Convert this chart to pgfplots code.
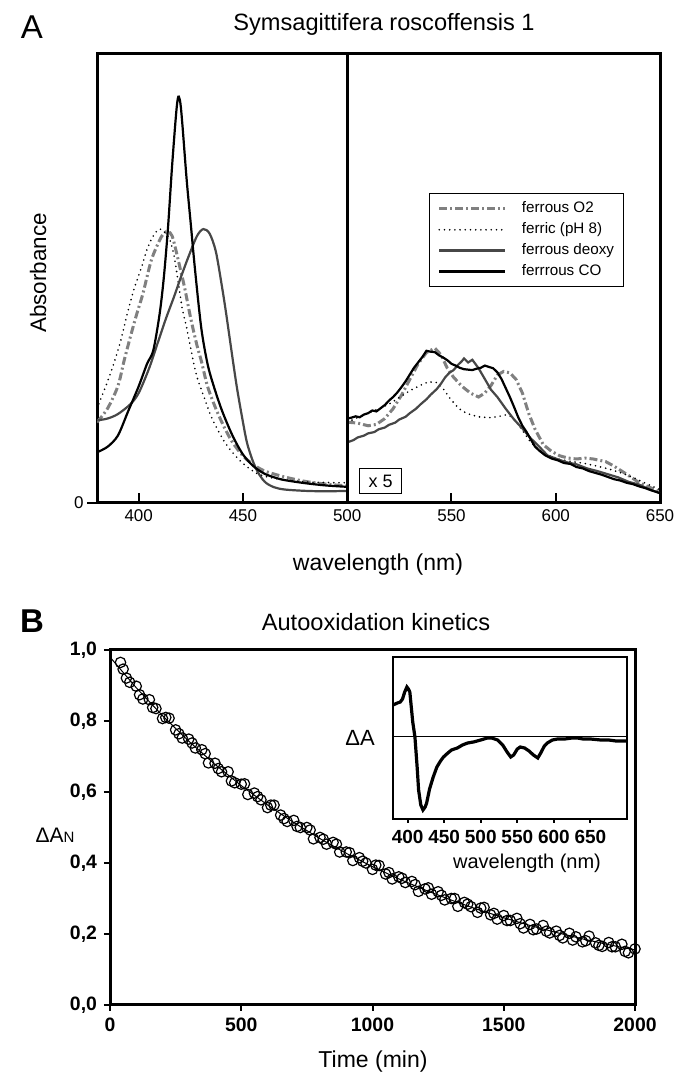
\documentclass[border=0pt]{standalone}
\usepackage{fontspec}
\setmainfont{Liberation Sans}
\usepackage{pgfplots}
\pgfplotsset{compat=1.18}
\definecolor{oxygray}{HTML}{808080}
\definecolor{deoxygray}{HTML}{474747}

\pgfplotsset{
  o2/.style={oxygray, line width=1.5pt, dash pattern=on 4pt off 1.5pt on 1pt off 1.5pt},
  ferric/.style={black, line width=0.9pt, line cap=round, dash pattern=on 0pt off 2.6pt},
  deoxy/.style={deoxygray, line width=1.1pt},
  co/.style={black, line width=1.1pt},
}

\begin{document}
\begin{tikzpicture}
\useasboundingbox (0,0) rectangle (338pt,540.5pt);

% ---------------- panel A ----------------
\node[font=\fontsize{16.5}{18}\selectfont] at (16pt,527pt) {A};
\node[font=\fontsize{11.8}{13}\selectfont] at (192pt,528.5pt) {Symsagittifera roscoffensis 1};
\node[font=\fontsize{11.2}{13}\selectfont, rotate=90] at (19pt,404pt) {Absorbance};
\node[font=\fontsize{11.5}{13}\selectfont] at (189pt,258pt) {wavelength (nm)};

\begin{axis}[
  at={(48.5pt,289pt)}, anchor=south west,
  scale only axis, width=281.5pt, height=224.5pt,
  xmin=380, xmax=650, ymin=0, ymax=1,
  xtick={400,450,500,550,600,650},
  ytick=\empty,
  xtick pos=bottom,
  tick align=inside,
  major tick length=5pt,
  tick style={line width=1pt, black},
  axis line style={line width=1.5pt},
  tick label style={font=\fontsize{8.5}{10}\selectfont},
  /pgf/number format/assume math mode=true,
  legend style={at={(0.59,0.69)}, anchor=north west, draw=black, line width=0.6pt,
    font=\fontsize{7.6}{8.5}\selectfont, row sep=2.2pt, inner xsep=4pt, inner ysep=3.5pt,
    nodes={inner sep=0.6pt},
    /tikz/every odd column/.append style={column sep=7pt}},
  legend cell align=left,
  legend image code/.code={\draw[#1] (0pt,0pt) -- (33pt,0pt);},
]
\addplot[o2, smooth, tension=0.5] coordinates {(380,0.18) (385,0.21) (390,0.26) (393,0.317) (396,0.37) (399,0.42) (402,0.466) (406,0.54) (410,0.585) (412,0.60) (414,0.605) (416,0.595) (418,0.56) (420,0.52) (422,0.48) (425,0.41) (428,0.35) (430,0.317) (433,0.26) (437,0.21) (441,0.169) (445,0.135) (450,0.105) (454,0.089) (460,0.072) (470,0.058) (480,0.048) (490,0.042) (500,0.038)};
\addlegendentry{ferrous O2}
\addplot[ferric, smooth, tension=0.5] coordinates {(380,0.21) (385,0.27) (388,0.31) (391,0.355) (395,0.43) (398,0.48) (401,0.52) (404,0.565) (407,0.595) (410,0.61) (413,0.60) (415,0.585) (417,0.55) (419,0.49) (421,0.43) (423,0.39) (426,0.32) (428,0.28) (431,0.24) (435,0.19) (440,0.145) (444,0.118) (450,0.088) (457,0.065) (465,0.055) (475,0.049) (485,0.046) (500,0.045)};
\addlegendentry{ferric (pH 8)}
\addplot[deoxy, smooth, tension=0.5] coordinates {(380,0.184) (385,0.188) (390,0.198) (396,0.22) (400,0.245) (405,0.30) (409,0.355) (413,0.41) (417,0.46) (420,0.50) (424,0.55) (428,0.595) (431,0.61) (434,0.60) (437,0.56) (440,0.48) (442,0.42) (444,0.355) (447,0.26) (450,0.18) (452,0.133) (455,0.09) (458,0.062) (461,0.045) (465,0.035) (470,0.030) (480,0.027) (490,0.026) (500,0.027)};
\addlegendentry{ferrous deoxy}
\addplot[co, smooth, tension=0.5] coordinates {(380,0.113) (385,0.125) (390,0.15) (395,0.205) (400,0.26) (404,0.31) (407,0.34) (410,0.42) (412,0.50) (414,0.61) (416,0.75) (418,0.87) (419,0.905) (420,0.89) (421,0.84) (423,0.72) (425,0.62) (427,0.52) (430,0.39) (433,0.31) (436,0.26) (440,0.205) (445,0.15) (450,0.108) (455,0.082) (460,0.066) (465,0.057) (470,0.051) (480,0.044) (490,0.039) (500,0.036)};
\addlegendentry{ferrrous CO}

% right part, visible region x 5
\addplot[o2, forget plot] coordinates {(500,0.180) (505,0.178) (510,0.172) (514,0.175) (518,0.188) (522,0.210) (526,0.240) (530,0.275) (534,0.310) (538,0.335) (542,0.345) (545,0.330) (548,0.300) (551,0.280) (555,0.260) (559,0.245) (563,0.236) (566,0.245) (569,0.262) (572,0.285) (575,0.293) (578,0.290) (581,0.275) (584,0.245) (587,0.200) (590,0.165) (594,0.130) (598,0.115) (602,0.105) (606,0.100) (610,0.098) (614,0.100) (618,0.098) (621,0.095) (624,0.092) (628,0.082) (632,0.070) (636,0.058) (640,0.045) (645,0.035) (650,0.025)};
\addplot[ferric, forget plot] coordinates {(500,0.180) (505,0.190) (510,0.200) (515,0.210) (520,0.220) (525,0.235) (530,0.250) (535,0.262) (539,0.270) (543,0.268) (546,0.255) (549,0.235) (552,0.218) (555,0.205) (559,0.197) (563,0.192) (568,0.190) (572,0.192) (576,0.196) (579,0.192) (582,0.175) (585,0.155) (588,0.135) (592,0.118) (597,0.105) (602,0.097) (608,0.092) (614,0.088) (620,0.082) (626,0.075) (632,0.066) (638,0.055) (644,0.042) (650,0.030)};
\addplot[deoxy, forget plot] coordinates {(500,0.135) (503,0.140) (505,0.146) (508,0.150) (510,0.155) (513,0.158) (515,0.164) (518,0.168) (520,0.174) (523,0.179) (525,0.186) (528,0.192) (530,0.200) (533,0.210) (535,0.219) (538,0.231) (540,0.241) (543,0.254) (545,0.266) (547,0.280) (549,0.290) (551,0.296) (553,0.307) (555,0.316) (556,0.322) (558,0.313) (560,0.319) (563,0.300) (566,0.276) (569,0.252) (572,0.236) (576,0.210) (580,0.186) (584,0.166) (588,0.144) (592,0.126) (596,0.106) (600,0.099) (605,0.091) (610,0.086) (615,0.077) (620,0.071) (625,0.064) (630,0.057) (635,0.047) (640,0.041) (645,0.030) (650,0.022)};
\addplot[co, forget plot] coordinates {(500,0.188) (502,0.190) (504,0.193) (506,0.191) (508,0.197) (510,0.200) (512,0.206) (514,0.204) (516,0.211) (518,0.218) (520,0.228) (522,0.236) (524,0.246) (526,0.258) (528,0.271) (530,0.286) (532,0.301) (534,0.313) (536,0.325) (538,0.339) (540,0.337) (542,0.336) (544,0.329) (546,0.324) (548,0.318) (550,0.310) (552,0.306) (554,0.301) (556,0.298) (558,0.297) (560,0.296) (562,0.299) (564,0.301) (566,0.306) (568,0.303) (570,0.300) (572,0.291) (574,0.276) (576,0.256) (578,0.236) (580,0.214) (582,0.191) (584,0.172) (586,0.158) (588,0.142) (590,0.126) (592,0.117) (595,0.106) (598,0.099) (601,0.095) (604,0.089) (607,0.087) (610,0.080) (613,0.077) (616,0.071) (619,0.067) (622,0.063) (625,0.058) (628,0.053) (631,0.050) (634,0.045) (637,0.042) (640,0.037) (643,0.033) (646,0.028) (650,0.022)};

\draw[line width=1.5pt] (axis cs:500,0) -- (axis cs:500,1);
\node[draw, line width=0.7pt, minimum width=21pt, minimum height=12.5pt, inner sep=0pt,
  font=\fontsize{9}{10}\selectfont] at (axis cs:516,0.049) {x 5};
\end{axis}
\draw[line width=1pt] (48.5pt,289pt) -- (43.5pt,289pt);
\node[anchor=east, font=\fontsize{8.5}{10}\selectfont, inner sep=1pt] at (43pt,289pt) {0};

% ---------------- panel B ----------------
\node[font=\bfseries\fontsize{16.5}{18}\selectfont] at (16pt,230pt) {B};
\node[font=\fontsize{11.8}{13}\selectfont] at (188pt,229.5pt) {Autooxidation kinetics};
\node[font=\fontsize{10.5}{12}\selectfont] at (27.5pt,123pt) {ΔA{\fontsize{7.5}{9}\selectfont N}};
\node[font=\fontsize{11.5}{13}\selectfont] at (186.5pt,9.5pt) {Time (min)};

\begin{axis}[
  at={(55pt,38pt)}, anchor=south west,
  scale only axis, width=262.5pt, height=177.5pt,
  xmin=0, xmax=2000, ymin=0, ymax=1,
  xtick={0,500,1000,1500,2000},
  ytick={0,0.2,0.4,0.6,0.8,1.0},
  xtick pos=bottom, ytick pos=left,
  tick align=outside,
  major tick length=3pt,
  tick style={line width=1pt, black},
  axis line style={line width=1.5pt},
  tick label style={font=\bfseries\fontsize{9.7}{11}\selectfont},
  /pgf/number format/assume math mode=true,
  xticklabel style={/pgf/number format/1000 sep={}},
  yticklabel style={/pgf/number format/.cd, fixed, fixed zerofill, precision=1, use comma},
]
\addplot[black, line width=0.5pt] coordinates {(0,0.980) (100,0.8937) (200,0.8150) (300,0.7432) (400,0.6777) (500,0.6180) (600,0.5636) (700,0.5139) (800,0.4686) (900,0.4273) (1000,0.3897) (1100,0.3553) (1200,0.3240) (1300,0.2955) (1400,0.2694) (1500,0.2457) (1600,0.2240) (1700,0.2043) (1800,0.1863) (1900,0.1699) (2000,0.1549)};
\addplot[only marks, mark=o, mark size=2.6pt, mark options={line width=0.6pt, fill=white, draw=black}] coordinates {
(40,0.965) (50,0.946) (62.5,0.921) (75,0.909) (100,0.898) (112.5,0.874) (125,0.862) (150,0.860) (162.5,0.838) (175,0.835) (200,0.807) (212.5,0.810) (225,0.808) (250,0.775) (262.5,0.764) (275,0.752) (300,0.749) (312.5,0.738) (325,0.724) (350,0.719) (362.5,0.708) (375,0.682) (400,0.681) (412.5,0.666) (425,0.657) (450,0.657) (462.5,0.631) (475,0.626) (500,0.622) (512.5,0.623) (525,0.593) (550,0.597) (562.5,0.587) (575,0.578) (600,0.556) (612.5,0.563) (625,0.563) (650,0.535) (662.5,0.525) (675,0.517) (700,0.520) (712.5,0.503) (725,0.500) (750,0.500) (762.5,0.493) (775,0.468) (800,0.472) (812.5,0.467) (825,0.453) (850,0.458) (862.5,0.453) (875,0.431) (900,0.431) (912.5,0.429) (925,0.407) (950,0.415) (962.5,0.405) (975,0.400) (1000,0.382) (1012.5,0.394) (1025,0.393) (1050,0.369) (1062.5,0.373) (1075,0.355) (1100,0.361) (1112.5,0.357) (1125,0.345) (1150,0.348) (1162.5,0.339) (1175,0.320) (1200,0.327) (1212.5,0.330) (1225,0.312) (1250,0.319) (1262.5,0.309) (1275,0.296) (1300,0.300) (1312.5,0.300) (1325,0.278) (1350,0.289) (1362.5,0.284) (1375,0.277) (1400,0.261) (1412.5,0.273) (1425,0.275) (1450,0.254) (1462.5,0.258) (1475,0.242) (1500,0.252) (1512.5,0.238) (1525,0.238) (1550,0.244) (1562.5,0.229) (1575,0.217) (1600,0.227) (1612.5,0.212) (1625,0.214) (1650,0.224) (1662.5,0.208) (1675,0.203) (1700,0.208) (1712.5,0.196) (1725,0.189) (1750,0.202) (1762.5,0.183) (1775,0.192) (1800,0.178) (1812.5,0.181) (1825,0.194) (1850,0.175) (1862.5,0.168) (1875,0.165) (1900,0.176) (1912.5,0.164) (1925,0.164) (1950,0.171) (1962.5,0.151) (1975,0.147) (2000,0.158)};
\end{axis}

% ---------------- inset ----------------
\node[font=\fontsize{11}{13}\selectfont] at (180pt,171.5pt) {ΔA};
\node[font=\fontsize{10}{12}\selectfont] at (263.5pt,109pt) {wavelength (nm)};
\begin{axis}[
  at={(196.5pt,131pt)}, anchor=south west,
  scale only axis, width=117pt, height=81pt,
  xmin=380, xmax=700, ymin=-82, ymax=80,
  xtick={400,450,500,550,600,650},
  ytick=\empty,
  xtick pos=bottom,
  tick align=outside,
  major tick length=2pt,
  tick style={line width=1pt, black},
  axis line style={line width=1.3pt},
  axis background/.style={fill=white},
  tick label style={font=\bfseries\fontsize{9.5}{11}\selectfont},
  xticklabel style={inner xsep=0pt},
  /pgf/number format/assume math mode=true,
]
\addplot[black, line width=0.5pt] coordinates {(380,0) (700,0)};
\addplot[black, line width=1.6pt] coordinates {(380,32) (386,34) (390,35) (393,38) (396,45) (399,50) (401,48) (403,45) (405,30) (407,15) (410,0) (413,-30) (415,-53) (418,-68) (421,-73) (424,-70) (426,-66) (430,-52) (435,-40) (440,-30) (445,-24) (449,-20) (455,-16) (460,-13) (468,-11) (475,-8) (482,-6) (490,-5) (500,-3) (509,-1) (515,-1) (523,-3) (530,-8) (536,-15) (541,-20) (545,-18) (550,-12) (554,-10) (560,-11) (566,-14) (572,-18) (578,-21) (582,-16) (587,-9) (591,-6) (598,-3) (605,-2) (615,-2) (625,-1) (632,-1) (640,-2) (650,-2) (664,-3) (675,-3) (685,-4) (699,-4)};
\end{axis}
\end{tikzpicture}
\end{document}
